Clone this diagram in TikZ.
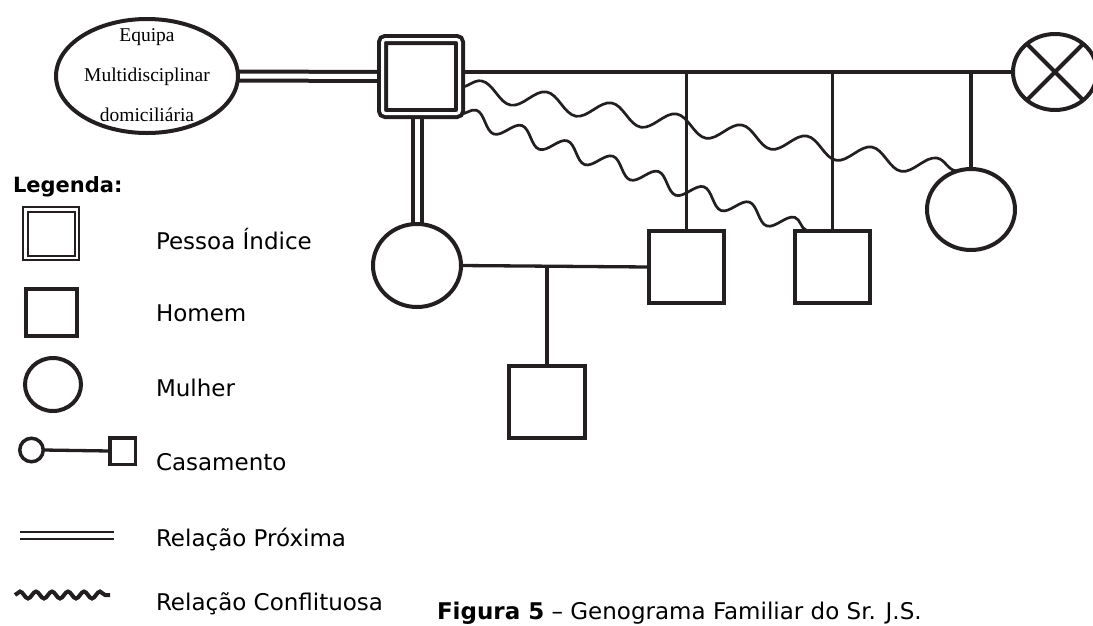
\documentclass[tikz,border=0pt]{standalone}
\usepackage{fontspec}
\setmainfont{DejaVu Sans}
\newfontfamily\teamfont{Liberation Serif}
\usetikzlibrary{shapes.geometric,decorations.pathmorphing,backgrounds}
\definecolor{ink}{HTML}{231F20}

\begin{document}
\begin{tikzpicture}[x=1pt,y=-1pt,
  every node/.style={inner sep=0pt,outer sep=0pt},
  man/.style={draw=ink,fill=white,line width=4pt,minimum width=75pt,minimum height=72pt},
  woman/.style={ellipse,draw=ink,fill=white,line width=4pt},
  rel/.style={draw=ink,line width=3.3pt},
  close/.style={draw=ink,line width=4pt,double=white,double distance=5pt},
  conflict/.style={draw=ink,line width=2.7pt,decorate,
    decoration={snake,amplitude=9.5pt,segment length=66pt}},
  txt/.style={font=\fontsize{23}{27}\selectfont,anchor=base west}]

  \useasboundingbox (0,0) rectangle (1093,625);

  % Family
  \node[woman,minimum width=182pt,minimum height=114pt] (team) at (147,76) {};
  \node[font=\teamfont\fontsize{19.5}{40}\selectfont,align=center] (teamtxt) at (147,75)
    {Equipa\\Multidisciplinar\\domiciliária};
  \node[draw=ink,fill=white,line width=4pt,double=white,double distance=3pt,
    rounded corners=3pt,minimum width=77pt,minimum height=74pt] (idx) at (421,76.5) {};
  \node[ellipse,draw=ink,fill=white,line width=4pt,minimum width=84pt,minimum height=76pt] (wife) at (1055,72) {};
  \draw[ink,line width=4pt] (wife.45) -- (wife.225) (wife.135) -- (wife.-45);
  \node[man] (sonA) at (686.5,267) {};
  \node[man] (sonB) at (832.5,267) {};
  \node[woman,minimum width=88pt,minimum height=81pt] (daughter) at (971,209.5) {};
  \node[woman,minimum width=88pt,minimum height=83pt] (dinlaw) at (417,265.5) {};
  \node[man,minimum width=76pt] (grandson) at (547,402) {};

  \begin{scope}[on background layer]
    \draw[close] (team.east) -- (idx.west);
    \draw[close] (dinlaw.north |- idx.south) -- (dinlaw.north);
    \draw[rel] (idx.east |- wife.west) -- (wife.west);
    \draw[rel] (sonA.north) -- (sonA.north |- wife.west);
    \draw[rel] (sonB.north) -- (sonB.north |- wife.west);
    \draw[rel] (daughter.north) -- (daughter.north |- wife.west);
    \draw[rel] (dinlaw.east) -- (sonA.west);
    \draw[rel] (grandson.north) -- (grandson.north |- sonA.west);
    % conflicts
    \draw[conflict] (idx.-15) -- (daughter.110);
    \draw[conflict,decoration={amplitude=8.5pt,segment length=48pt}] (idx.south east) -- ([xshift=-24pt]sonB.north);
  \end{scope}

  % Legend
  \node[font=\bfseries\fontsize{21}{25}\selectfont,anchor=base west] (legend) at (13,192) {Legenda:};
  \node[draw=ink,line width=2pt,double=white,double distance=2.5pt,
    minimum width=51.5pt,minimum height=48.5pt] (kidx) at (51,233.5) {};
  \node[man,minimum width=51pt,minimum height=47pt] (kman) at (51.5,312.5) {};
  \node[woman,minimum width=56pt,minimum height=53pt] (kwoman) at (53,384.5) {};
  \node[draw=ink,line width=3.5pt,circle,minimum size=23.5pt] (kwife) at (31.5,450) {};
  \node[draw=ink,line width=3.5pt,minimum width=25.5pt,minimum height=26.5pt] (khusband) at (122.5,451) {};
  \draw[rel] (kwife.east) -- (khusband.west);
  \coordinate (kclose1) at (20,535.5);
  \coordinate (kclose2) at (114,535.5);
  \draw[close,line width=2.5pt,double distance=4.5pt] (kclose1) -- (kclose2);
  \coordinate (kconf1) at (15,595);
  \coordinate (kconf2) at (110,595);
  \draw[conflict,line width=4pt,decoration={amplitude=3.5pt,segment length=16pt}] (kconf1) -- (kconf2);

  \node[txt] (tidx) at (156,249) {Pessoa Índice};
  \node[txt] (tman) at (156,321) {Homem};
  \node[txt] (twoman) at (156,396) {Mulher};
  \node[txt] (tmarriage) at (156,470) {Casamento};
  \node[txt] (tclose) at (156,546) {Relação Próxima};
  \node[txt] (tconflict) at (156,610) {Relação Conflituosa};

  % Caption
  \node[txt] (caption) at (437,619) {\bfseries Figura 5\mdseries{} – Genograma Familiar do Sr. J.S.};
\end{tikzpicture}
\end{document}
